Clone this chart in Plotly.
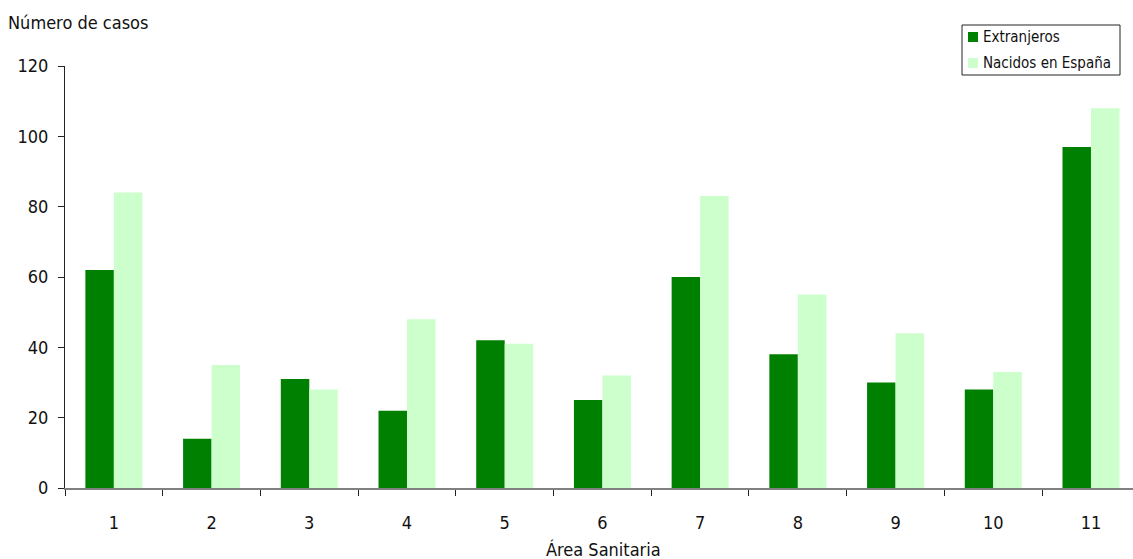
import plotly.graph_objects as go

# Casos por área sanitaria según lugar de nacimiento
areas = ["1", "2", "3", "4", "5", "6", "7", "8", "9", "10", "11"]
extranjeros = [62, 14, 31, 22, 42, 25, 60, 38, 30, 28, 97]
nacidos_espana = [84, 35, 28, 48, 41, 32, 83, 55, 44, 33, 108]
y_ticks = [0, 20, 40, 60, 80, 100, 120]

FONT = "DejaVu Sans Condensed, Liberation Sans Narrow, Arial Narrow, sans-serif"
DARK_GREEN = "#008000"
LIGHT_GREEN = "#CCFFCC"

fig = go.Figure()
fig.add_trace(go.Bar(x=areas, y=extranjeros, name="Extranjeros",
                     marker=dict(color=DARK_GREEN, line=dict(width=0))))
fig.add_trace(go.Bar(x=areas, y=nacidos_espana, name="Nacidos en España",
                     marker=dict(color=LIGHT_GREEN, line=dict(width=0))))

fig.update_layout(
    width=1133, height=559,
    margin=dict(l=65, r=0, t=66, b=71),
    paper_bgcolor="white", plot_bgcolor="white",
    barmode="group", bargap=0.417, bargroupgap=0,
    showlegend=False,
    font=dict(family=FONT, size=18, color="#111111"),
    xaxis=dict(
        type="category", range=[-0.5, 10.43],
        showline=True, linecolor="#808080", linewidth=2,
        ticks="outside", tickson="boundaries", ticklen=6, tickcolor="#222222",
        tickwidth=1, showgrid=False, zeroline=False,
        tickfont=dict(size=18), ticklabelstandoff=17,
    ),
    yaxis=dict(
        range=[0, 120], tickvals=y_ticks,
        showline=True, linecolor="#222222", linewidth=1,
        ticks="outside", ticklen=6, tickcolor="#222222",
        showgrid=False, zeroline=False,
        tickfont=dict(size=18), ticklabelstandoff=6,
    ),
)

def px_x(v):
    return (v - 65) / 1068

def px_y(v):
    return (488 - v) / 422

# Axis titles
fig.add_annotation(text="Número de casos", xref="paper", yref="paper",
                   x=px_x(6), y=px_y(22), xanchor="left", yanchor="middle",
                   showarrow=False, font=dict(size=18))
fig.add_annotation(text="Área Sanitaria", xref="paper", yref="paper",
                   x=px_x(603), y=px_y(549), xanchor="center",
                   yanchor="middle", showarrow=False, font=dict(size=18))

# Legend box
fig.add_shape(type="rect", xref="paper", yref="paper",
              x0=px_x(962), x1=px_x(1120), y0=px_y(75), y1=px_y(25),
              line=dict(color="#222222", width=1), fillcolor="white")
legend_items = [("Extranjeros", DARK_GREEN, 37), ("Nacidos en España", LIGHT_GREEN, 63)]
for label, color, yc in legend_items:
    fig.add_shape(type="rect", xref="paper", yref="paper",
                  x0=px_x(968), x1=px_x(978), y0=px_y(yc + 5), y1=px_y(yc - 5),
                  line=dict(width=0), fillcolor=color)
    fig.add_annotation(text=label, xref="paper", yref="paper",
                       x=px_x(981), y=px_y(yc), xanchor="left", yanchor="middle",
                       showarrow=False, font=dict(size=15))

fig.write_html("out.html")
